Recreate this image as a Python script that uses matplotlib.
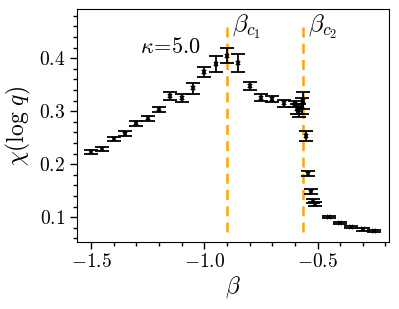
import matplotlib
matplotlib.use("Agg")
import matplotlib.pyplot as plt
from matplotlib.ticker import MultipleLocator, FuncFormatter

plt.rcParams['mathtext.fontset'] = 'cm'
plt.rcParams['font.family'] = ['DejaVu Serif']

beta = [-1.50, -1.45, -1.40, -1.35, -1.30, -1.25, -1.20, -1.15, -1.10, -1.05,
        -1.00, -0.95, -0.90, -0.85, -0.80, -0.75, -0.70, -0.65,
        -0.60, -0.59, -0.58, -0.57, -0.565, -0.55, -0.54, -0.53, -0.52, -0.51,
        -0.45, -0.40, -0.35, -0.30, -0.25]
chi = [0.223, 0.229, 0.247, 0.258, 0.277, 0.287, 0.304, 0.329, 0.325, 0.343,
       0.374, 0.389, 0.405, 0.391, 0.348, 0.326, 0.323, 0.315,
       0.314, 0.304, 0.302, 0.310, 0.320, 0.253, 0.182, 0.148, 0.130, 0.125,
       0.100, 0.090, 0.082, 0.077, 0.074]
err = [0.003, 0.004, 0.004, 0.004, 0.005, 0.005, 0.005, 0.007, 0.007, 0.011,
       0.010, 0.015, 0.014, 0.017, 0.008, 0.006, 0.006, 0.006,
       0.006, 0.010, 0.012, 0.015, 0.016, 0.009, 0.005, 0.005, 0.004, 0.003,
       0.002, 0.002, 0.002, 0.002, 0.002]
beta_c = [-0.90, -0.564]
beta_c_labels = [r'$\beta_{c_1}$', r'$\beta_{c_2}$']
kappa_label = r'$\kappa\!=\!5.0$'

fig = plt.figure(figsize=(3.99, 3.09), dpi=100)
ax = fig.add_axes([0.193, 0.218, 0.781, 0.752])

ax.errorbar(beta, chi, yerr=err, fmt='x', color='black', ms=3, mew=1.3,
            elinewidth=1.3, capsize=5, capthick=1.3, zorder=3)

for b, lab in zip(beta_c, beta_c_labels):
    ax.vlines(b, 0.073, 0.466, colors='orange', linestyles=(0, (4, 2.5)), lw=1.8, zorder=2)
    ax.text(b + 0.022, 0.460, lab, fontsize=18, ha='left', va='center')

ax.text(-1.15, 0.421, kappa_label, fontsize=16, ha='center', va='center')

ax.set_xlim(-1.562, -0.186)
ax.set_ylim(0.054, 0.4925)
ax.xaxis.set_major_locator(MultipleLocator(0.5))
ax.xaxis.set_minor_locator(MultipleLocator(0.1))
ax.yaxis.set_major_locator(MultipleLocator(0.1))
ax.yaxis.set_minor_locator(MultipleLocator(0.02))
fmt = FuncFormatter(lambda v, p: r'$%.1f$' % v)
ax.xaxis.set_major_formatter(fmt)
ax.yaxis.set_major_formatter(fmt)
ax.tick_params(which='major', length=5, width=1, labelsize=14)
ax.tick_params(which='minor', length=3, width=1)
ax.set_xlabel(r'$\beta$', fontsize=17, labelpad=2)
ax.set_ylabel(r'$\chi(\log\, q)$', fontsize=17, labelpad=4)

fig.savefig('out.png', dpi=100)
